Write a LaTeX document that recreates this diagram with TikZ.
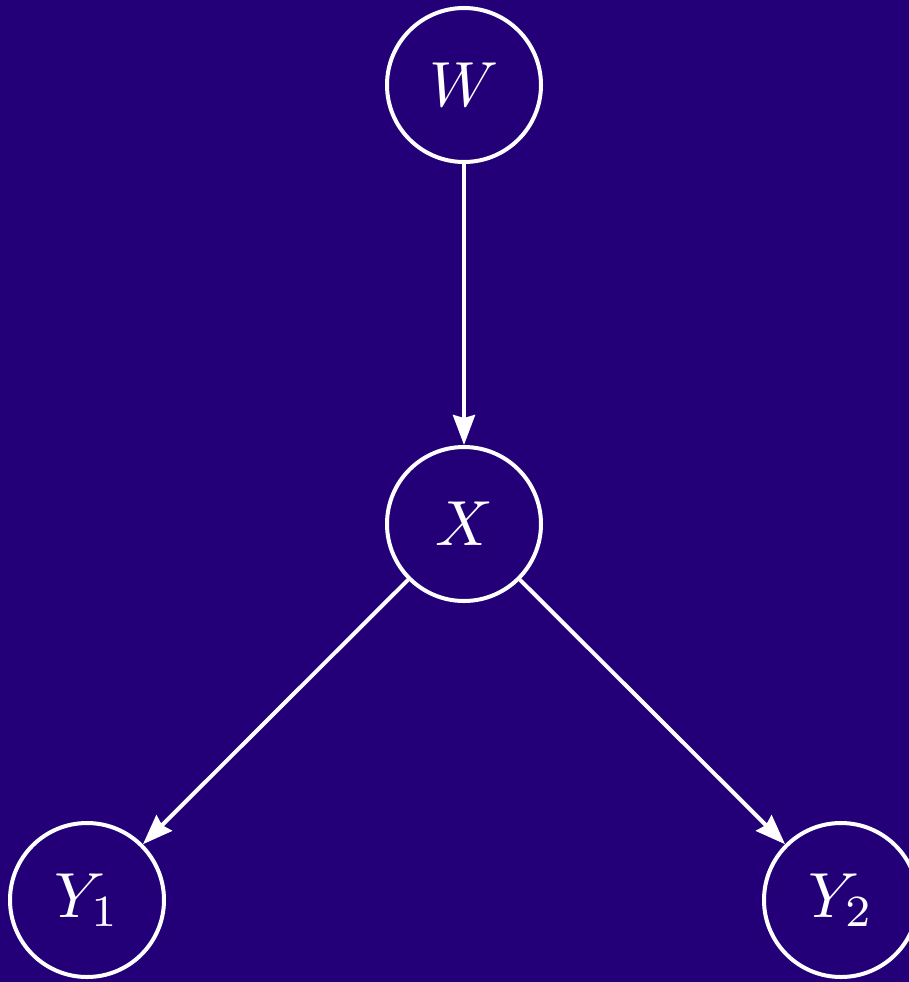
\documentclass[tikz,border=0pt]{standalone}
\usepackage{graphicx}
\usetikzlibrary{arrows.meta}
\definecolor{bgindigo}{RGB}{35,0,120}
\newcommand{\biglbl}[1]{\scalebox{6.4}{$#1$}}
\begin{document}
\begin{tikzpicture}[x=1bp,y=-1bp,
  varnode/.style={circle,draw=white,line width=4bp,minimum size=154bp,inner sep=0pt,text=white},
  arr/.style={draw=white,line width=4bp,-{Stealth[length=30bp,width=22bp,inset=3bp]}}]
\fill[bgindigo] (0,0) rectangle (909,982);
\useasboundingbox (0,0) rectangle (909,982);
\node[varnode] (W) at (464,85) {\biglbl{W}};
\node[varnode] (X) at (464,524) {\biglbl{X}};
\node[varnode] (Y1) at (87,900) {\biglbl{Y_1}};
\node[varnode] (Y2) at (841,900) {\biglbl{Y_2}};
\draw[arr] (W) -- (X);
\draw[arr] (X) -- (Y1);
\draw[arr] (X) -- (Y2);
\end{tikzpicture}
\end{document}
